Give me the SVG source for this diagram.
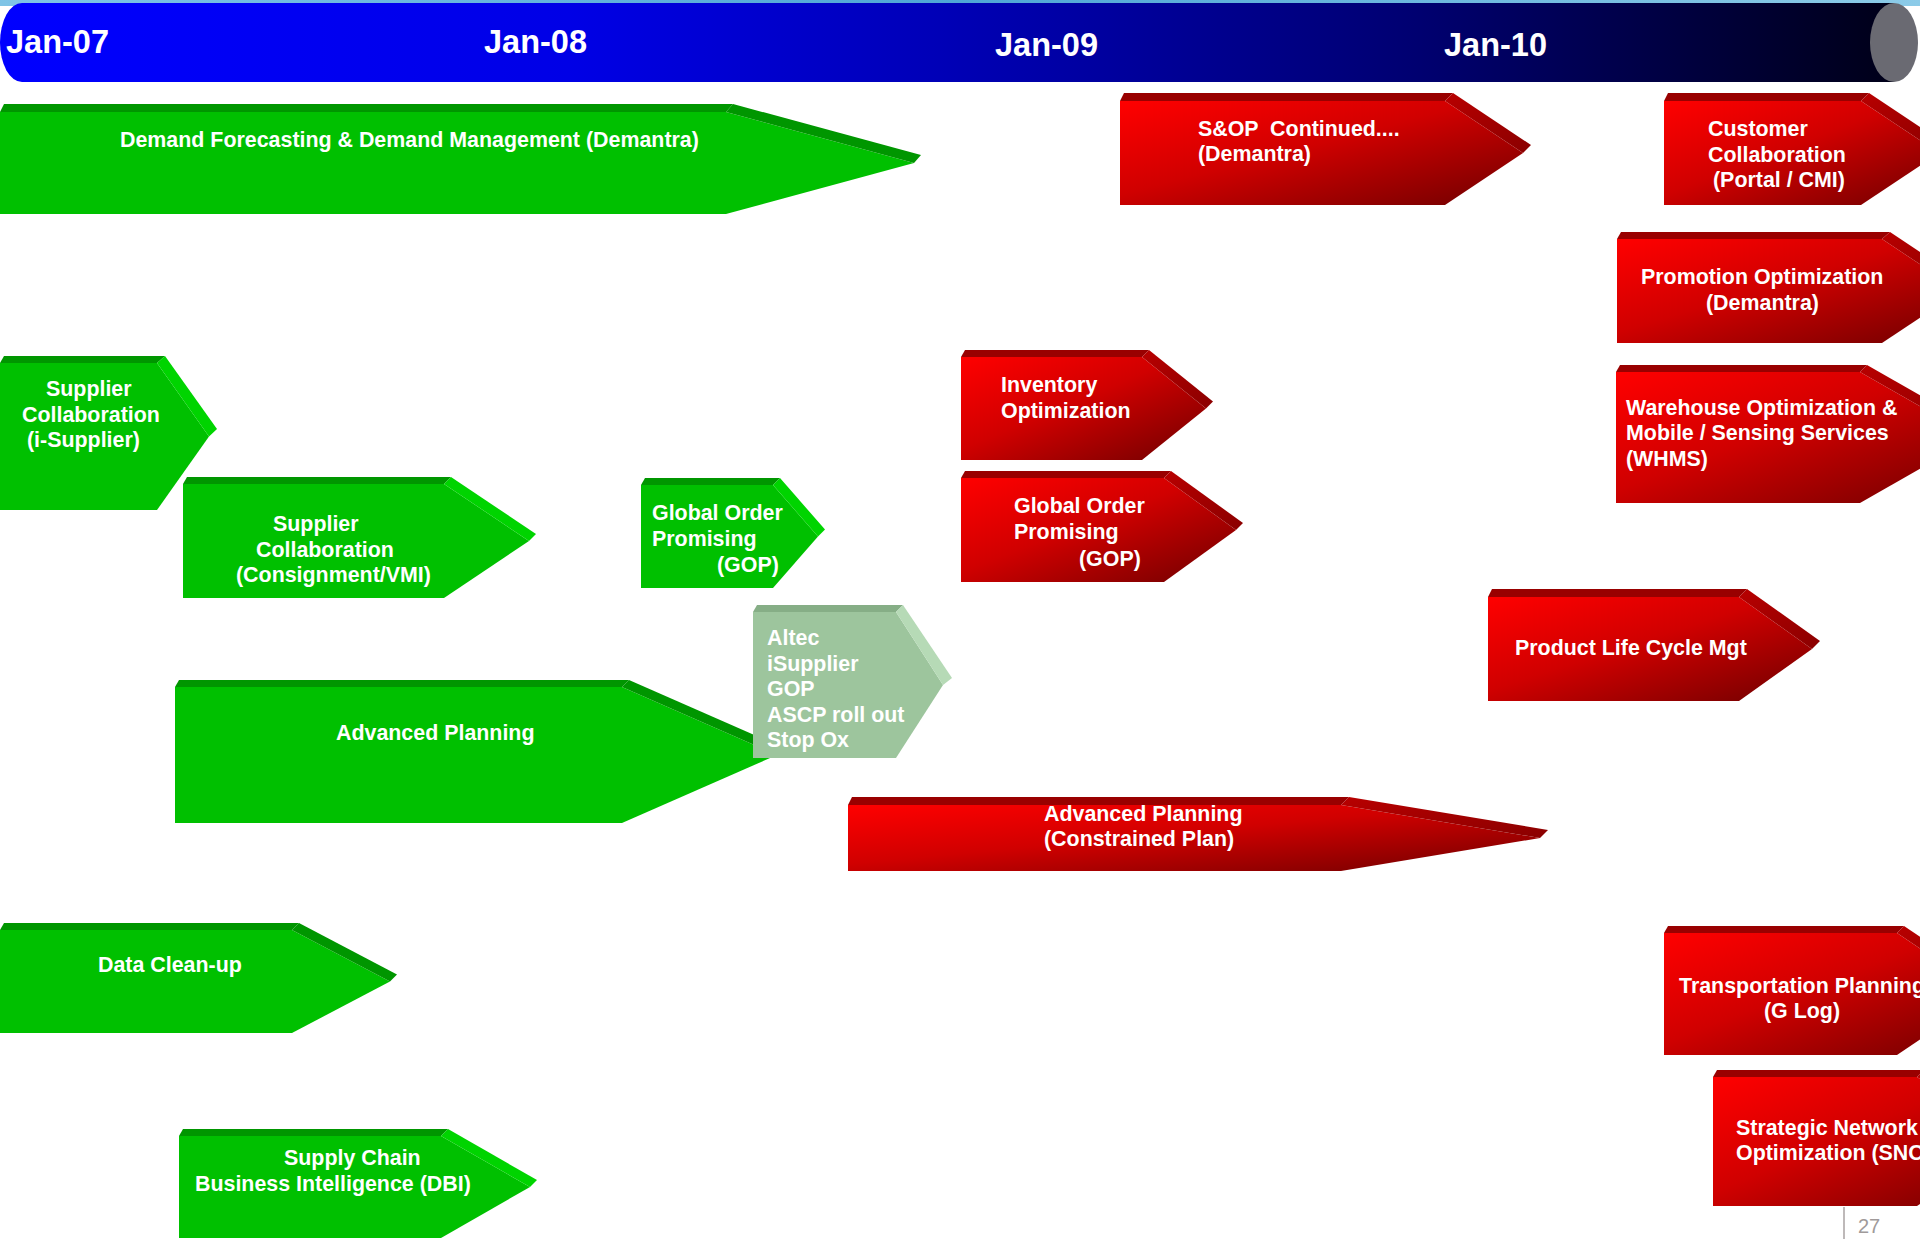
<svg xmlns="http://www.w3.org/2000/svg" width="1920" height="1239" viewBox="0 0 1920 1239">
<style>
  text { font-family: "Liberation Sans", Arial, sans-serif; font-weight: bold; font-size: 21.4px; fill: #FFFFFF; }
  .jan { font-size: 32.5px; }
  .pg { font-weight: normal; font-size: 20px; fill: #A09A9A; }
  .gf { fill: #00C000; }
  .gt { fill: #009600; }
  .gd { fill: #009600; }
  .gl { fill: #00D400; }
  .rf { fill: url(#redGrad); }
  .rt { fill: #990000; }
  .rd { fill: url(#redDiag); }
  .af { fill: #9DC59D; }
  .at { fill: #86AE86; }
  .ad { fill: #B6DAB6; }
</style>
<defs>
  <linearGradient id="barGrad" x1="0" y1="0" x2="1" y2="0">
    <stop offset="0" stop-color="#0000FF"/>
    <stop offset="0.3" stop-color="#0000E6"/>
    <stop offset="0.5" stop-color="#0000B6"/>
    <stop offset="0.75" stop-color="#000070"/>
    <stop offset="1" stop-color="#000018"/>
  </linearGradient>
  <linearGradient id="redGrad" x1="0" y1="0" x2="1" y2="1">
    <stop offset="0" stop-color="#FF0000"/>
    <stop offset="0.45" stop-color="#D00000"/>
    <stop offset="1" stop-color="#6E0000"/>
  </linearGradient>
  <linearGradient id="redDiag" x1="0" y1="0" x2="1" y2="1">
    <stop offset="0" stop-color="#B80000"/>
    <stop offset="1" stop-color="#8A0000"/>
  </linearGradient>
  <linearGradient id="skyGrad" x1="0" y1="0" x2="1" y2="0">
    <stop offset="0" stop-color="#7FC4E6"/>
    <stop offset="0.5" stop-color="#4FA6D6"/>
    <stop offset="1" stop-color="#8CCBE8"/>
  </linearGradient>
</defs>

<rect x="0" y="0" width="1920" height="1239" fill="#FFFFFF"/>

<g id="timeline">
  <rect x="0" y="0" width="1920" height="6" fill="url(#skyGrad)"/>
  <path d="M22,3 H1894 V82 H22 A22,39.5 0 0 1 22,3 Z" fill="url(#barGrad)"/>
  <ellipse cx="1894" cy="42.5" rx="24" ry="39.5" fill="#6A6A72"/>
  <text class="jan" x="6" y="53">Jan-07</text>
  <text class="jan" x="484" y="53">Jan-08</text>
  <text class="jan" x="995" y="56">Jan-09</text>
  <text class="jan" x="1444" y="56">Jan-10</text>
</g>

<g id="connectors"></g>

<!-- Green arrows -->
<g id="demand-forecasting">
  <polygon class="gf" points="0,112 726,112 914,163 726,214 0,214"/>
  <polygon class="gt" points="0,112 4,104 733,104 726,112"/>
  <polygon class="gd" points="726,112 733,104 921,155 914,163"/>
  <text x="120" y="147">Demand Forecasting &amp; Demand Management (Demantra)</text>
</g>

<g id="supplier-collab-isupplier">
  <polygon class="gf" points="0,363 157,363 209,436.5 157,510 0,510"/>
  <polygon class="gt" points="0,363 4,356 165,356 157,363"/>
  <polygon class="gl" points="157,363 165,356 217,429 209,436.5"/>
  <text x="46" y="396">Supplier</text>
  <text x="22" y="422">Collaboration</text>
  <text x="27" y="447">(i-Supplier)</text>
</g>

<g id="supplier-collab-consignment">
  <polygon class="gf" points="183,484 444,484 529,541 444,598 183,598"/>
  <polygon class="gt" points="183,484 187,477 451,477 444,484"/>
  <polygon class="gl" points="444,484 451,477 536,534 529,541"/>
  <text x="273" y="531">Supplier</text>
  <text x="256" y="557">Collaboration</text>
  <text x="236" y="582">(Consignment/VMI)</text>
</g>

<g id="gop-green">
  <polygon class="gf" points="641,485 773,485 818,536.5 773,588 641,588"/>
  <polygon class="gt" points="641,485 645,478 780,478 773,485"/>
  <polygon class="gl" points="773,485 780,478 825,529.5 818,536.5"/>
  <text x="652" y="520">Global Order</text>
  <text x="652" y="546">Promising</text>
  <text x="717" y="572">(GOP)</text>
</g>

<g id="advanced-planning">
  <polygon class="gf" points="175,687 622,687 777,755 622,823 175,823"/>
  <polygon class="gt" points="175,687 179,680 629,680 622,687"/>
  <polygon class="gd" points="622,687 629,680 784,748 777,755"/>
  <text x="336" y="740">Advanced Planning</text>
</g>

<g id="altec">
  <polygon class="af" points="753,612 896,612 943,685 896,758 753,758"/>
  <polygon class="at" points="753,612 757,605 903,605 896,612"/>
  <polygon class="ad" points="896,612 903,605 952,678 943,685"/>
  <text x="767" y="645">Altec</text>
  <text x="767" y="671">iSupplier</text>
  <text x="767" y="696">GOP</text>
  <text x="767" y="722">ASCP roll out</text>
  <text x="767" y="747">Stop Ox</text>
</g>

<g id="data-cleanup">
  <polygon class="gf" points="0,930 292,930 390,981.5 292,1033 0,1033"/>
  <polygon class="gt" points="0,930 4,923 299,923 292,930"/>
  <polygon class="gd" points="292,930 299,923 397,974.5 390,981.5"/>
  <text x="98" y="972">Data Clean-up</text>
</g>

<g id="supply-chain-bi">
  <polygon class="gf" points="179,1136 441,1136 530,1187 441,1238 179,1238"/>
  <polygon class="gt" points="179,1136 183,1129 448,1129 441,1136"/>
  <polygon class="gl" points="441,1136 448,1129 537,1180 530,1187"/>
  <text x="284" y="1165">Supply Chain</text>
  <text x="195" y="1191">Business Intelligence (DBI)</text>
</g>

<!-- Red arrows -->
<g id="sop-continued">
  <polygon class="rf" points="1120,101 1445,101 1523,153 1445,205 1120,205"/>
  <polygon class="rt" points="1120,101 1124,93 1453,93 1445,101"/>
  <polygon class="rd" points="1445,101 1453,93 1531,145 1523,153"/>
  <text x="1198" y="136" xml:space="preserve">S&amp;OP  Continued....</text>
  <text x="1198" y="161">(Demantra)</text>
</g>

<g id="customer-collaboration">
  <polygon class="rf" points="1664,101 1861,101 1939,153 1861,205 1664,205"/>
  <polygon class="rt" points="1664,101 1668,93 1869,93 1861,101"/>
  <polygon class="rd" points="1861,101 1869,93 1947,145 1939,153"/>
  <text x="1708" y="136">Customer</text>
  <text x="1708" y="162">Collaboration</text>
  <text x="1713" y="187">(Portal / CMI)</text>
</g>

<g id="promotion-optimization">
  <polygon class="rf" points="1617,239 1882,239 1960,291 1882,343 1617,343"/>
  <polygon class="rt" points="1617,239 1621,232 1890,232 1882,239"/>
  <polygon class="rd" points="1882,239 1890,232 1968,284 1960,291"/>
  <text x="1641" y="284">Promotion Optimization</text>
  <text x="1706" y="310">(Demantra)</text>
</g>

<g id="inventory-optimization">
  <polygon class="rf" points="961,357 1142,357 1206,408.5 1142,460 961,460"/>
  <polygon class="rt" points="961,357 965,350 1149,350 1142,357"/>
  <polygon class="rd" points="1142,357 1149,350 1213,401.5 1206,408.5"/>
  <text x="1001" y="392">Inventory</text>
  <text x="1001" y="418">Optimization</text>
</g>

<g id="gop-red">
  <polygon class="rf" points="961,478 1164,478 1236,530 1164,582 961,582"/>
  <polygon class="rt" points="961,478 965,471 1171,471 1164,478"/>
  <polygon class="rd" points="1164,478 1171,471 1243,523 1236,530"/>
  <text x="1014" y="513">Global Order</text>
  <text x="1014" y="539">Promising</text>
  <text x="1079" y="566">(GOP)</text>
</g>

<g id="warehouse-optimization">
  <polygon class="rf" points="1616,372 1860,372 1975,437.5 1860,503 1616,503"/>
  <polygon class="rt" points="1616,372 1620,365 1867,365 1860,372"/>
  <polygon class="rd" points="1860,372 1867,365 1982,430.5 1975,437.5"/>
  <text x="1626" y="415">Warehouse Optimization &amp;</text>
  <text x="1626" y="440">Mobile / Sensing Services</text>
  <text x="1626" y="466">(WHMS)</text>
</g>

<g id="product-life-cycle">
  <polygon class="rf" points="1488,597 1739,597 1812,649 1739,701 1488,701"/>
  <polygon class="rt" points="1488,597 1492,589 1747,589 1739,597"/>
  <polygon class="rd" points="1739,597 1747,589 1820,641 1812,649"/>
  <text x="1515" y="655">Product Life Cycle Mgt</text>
</g>

<g id="advanced-planning-constrained">
  <polygon class="rf" points="848,805 1341,805 1540,838 1341,871 848,871"/>
  <polygon class="rt" points="848,805 852,797 1349,797 1341,805"/>
  <polygon class="rd" points="1341,805 1349,797 1548,830 1540,838"/>
  <text x="1044" y="821">Advanced Planning</text>
  <text x="1044" y="846">(Constrained Plan)</text>
</g>

<g id="transportation-planning">
  <polygon class="rf" points="1664,933 1897,933 1987,994 1897,1055 1664,1055"/>
  <polygon class="rt" points="1664,933 1668,926 1904,926 1897,933"/>
  <polygon class="rd" points="1897,933 1904,926 1994,987 1987,994"/>
  <text x="1679" y="993">Transportation Planning</text>
  <text x="1764" y="1018">(G Log)</text>
</g>

<g id="strategic-network-optimization">
  <polygon class="rf" points="1713,1077 1917,1077 2010,1141.5 1917,1206 1713,1206"/>
  <polygon class="rt" points="1713,1077 1717,1070 1924,1070 1917,1077"/>
  <polygon class="rd" points="1917,1077 1924,1070 2017,1134.5 2010,1141.5"/>
  <text x="1736" y="1135">Strategic Network</text>
  <text x="1736" y="1160">Optimization (SNO)</text>
</g>

<g id="page-number">
  <line x1="1844" y1="1207" x2="1844" y2="1239" stroke="#A8A2A2" stroke-width="1.5"/>
  <text class="pg" x="1858" y="1233">27</text>
</g>
</svg>
